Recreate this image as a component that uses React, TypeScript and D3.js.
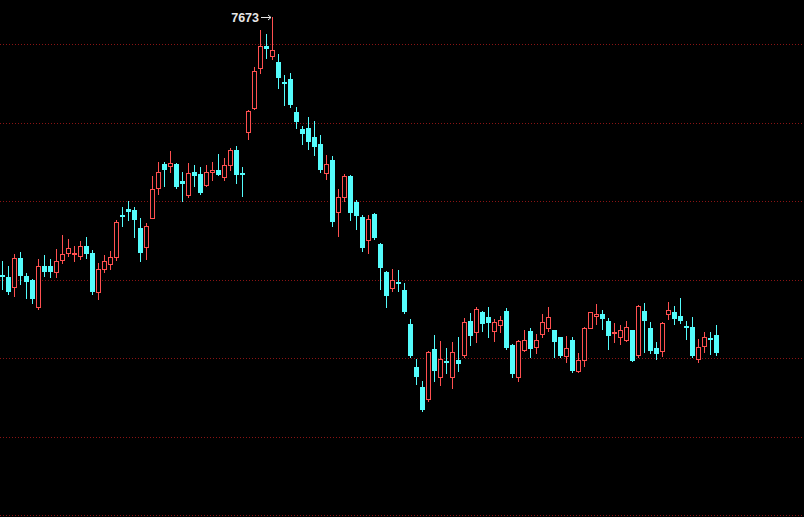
import React, { useEffect, useRef } from "react";
import * as d3 from "d3";

const opens = [6032,6015,5955,6141,6026,6000,5828,6090,6090,6047,6128,6172,6162,6149,6213,6172,5924,6070,6102,6142,
6415,6451,6445,6332,6206,6396,6587,6734,6723,6734,6628,6541,6685,6675,6605,6685,6696,6653,6732,6824,
6679,6940,7094,7351,7487,7426,7387,7260,7281,7068,6962,6966,6908,6866,6679,6760,6430,6525,6658,6498,
6402,6254,6420,6228,6051,5946,5987,5934,5717,5445,5317,5239,5558,5379,5479,5377,5490,5520,5738,5664,
5796,5760,5670,5711,5802,5585,5377,5551,5675,5572,5653,5689,5679,5632,5515,5617,5417,5488,5692,5766,
5781,5734,5659,5632,5615,5679,5520,5802,5692,5564,5547,5781,5796,5770,5707,5700,5494,5579,5625,5647];
const highs = [6121,6090,6166,6179,6040,6006,6134,6160,6134,6198,6287,6262,6217,6249,6275,6192,6109,6160,6185,6383,
6462,6504,6462,6396,6358,6658,6749,6749,6817,6741,6685,6742,6728,6717,6732,6749,6802,6777,6841,6849,
6717,7083,7355,7590,7568,7673,7436,7307,7320,7100,6977,7036,7009,6919,6792,6785,6579,6675,6664,6509,
6415,6409,6423,6232,6058,6070,6064,5979,5749,5493,5356,5547,5649,5609,5564,5600,5636,5756,5785,5823,
5802,5823,5749,5770,5819,5590,5617,5679,5692,5653,5781,5823,5681,5634,5643,5632,5534,5696,5796,5845,
5809,5753,5726,5711,5738,5681,5839,5851,5728,5600,5728,5860,5834,5881,5738,5760,5622,5664,5664,5711];
const lows = [5943,5911,5898,5975,5885,5853,5815,6026,6019,6019,6109,6153,6121,6134,6136,5911,5879,6051,6070,6128,
6345,6377,6270,6117,6134,6390,6549,6600,6685,6581,6504,6525,6600,6543,6600,6632,6664,6638,6696,6615,
6536,6898,7090,7317,7415,7409,7221,7111,7100,6968,6866,6834,6792,6685,6643,6345,6281,6500,6377,6324,
6181,6168,6260,5941,5823,5926,5930,5788,5504,5338,5160,5228,5351,5330,5402,5309,5415,5504,5585,5600,
5675,5636,5606,5664,5558,5381,5351,5547,5504,5530,5632,5675,5504,5504,5472,5413,5413,5451,5689,5717,
5686,5558,5600,5590,5611,5479,5504,5536,5532,5494,5515,5749,5717,5724,5622,5504,5472,5541,5526,5519];
const closes = [6019,5919,6136,6021,5983,5879,6085,6047,6051,6121,6166,6204,6171,6213,6162,5924,6070,6121,6142,6370,
6398,6434,6383,6168,6345,6579,6685,6702,6745,6589,6607,6681,6659,6553,6689,6696,6670,6732,6828,6664,
6668,7072,7328,7487,7468,7466,7285,7245,7111,7004,6926,6877,6845,6696,6734,6366,6525,6658,6423,6404,
6200,6388,6266,6072,5894,5999,5977,5791,5511,5377,5168,5541,5419,5494,5466,5539,5461,5730,5640,5813,
5715,5721,5730,5743,5563,5400,5611,5616,5558,5617,5728,5760,5600,5515,5564,5416,5490,5692,5791,5781,
5749,5643,5668,5679,5696,5483,5834,5738,5547,5526,5724,5809,5749,5738,5696,5511,5572,5636,5617,5532];

const gridLevels = [7500, 7000, 6500, 6000, 5500, 5000, 4500];
const peakLabel = "7673";

const W = 804;
const H = 517;
const UP = "#ff5050";
const DOWN = "#54fcfc";

export default function App() {
  const ref = useRef<SVGSVGElement>(null);

  useEffect(() => {
    document.body.style.margin = "0";
    document.body.style.background = "#000";
    const svg = d3.select(ref.current);
    svg.selectAll("*").remove();

    const n = opens.length;
    const x = d3.scaleLinear().domain([0, n - 1]).range([2, 716]);
    const y = d3.scaleLinear().domain([4500, 7500]).range([515, 44.3]);
    const px = (v: number) => Math.round(x(v));
    const py = (v: number) => Math.round(y(v));

    svg.append("rect").attr("width", W).attr("height", H).attr("fill", "#000");

    svg.selectAll("line.grid")
      .data(gridLevels)
      .enter()
      .append("line")
      .attr("class", "grid")
      .attr("x1", 0)
      .attr("x2", W)
      .attr("y1", d => py(d) + 0.5)
      .attr("y2", d => py(d) + 0.5)
      .attr("stroke", "#8a1414")
      .attr("stroke-width", 1)
      .attr("shape-rendering", "crispEdges")
      .attr("stroke-dasharray", "1,2");

    const data = opens.map((o, i) => ({ i, o, h: highs[i], l: lows[i], c: closes[i] }));
    const g = svg.append("g");
    data.forEach(d => {
      const cx = px(d.i);
      const up = d.c >= d.o;
      const col = up ? UP : DOWN;
      const top = py(Math.max(d.o, d.c));
      const bot = py(Math.min(d.o, d.c));
      g.append("line")
        .attr("x1", cx + 0.5).attr("x2", cx + 0.5)
        .attr("y1", py(d.h)).attr("y2", py(d.l) + 1)
        .attr("stroke", col).attr("stroke-width", 1);
      if (up) {
        g.append("rect")
          .attr("x", cx - 2 + 0.5)
          .attr("y", top + 0.5)
          .attr("width", 4)
          .attr("height", Math.max(bot - top, 1))
          .attr("fill", "#000")
          .attr("stroke", col)
          .attr("stroke-width", 1);
      } else {
        g.append("rect")
          .attr("x", cx - 2)
          .attr("y", top)
          .attr("width", 5)
          .attr("height", Math.max(bot - top, 2))
          .attr("fill", col);
      }
    });

    const maxH = d3.max(highs) as number;
    const peakIdx = highs.indexOf(maxH);
    const ax = px(peakIdx);
    const ay = py(maxH) + 0.5;
    svg.append("text")
      .attr("x", ax - 13)
      .attr("y", ay + 4.5)
      .attr("text-anchor", "end")
      .attr("fill", "#e6e6e6")
      .attr("font-family", "Liberation Sans, Arial, sans-serif")
      .attr("font-weight", "bold")
      .attr("font-size", 12.5)
      .text(peakLabel);
    svg.append("line")
      .attr("x1", ax - 11).attr("x2", ax - 1)
      .attr("y1", ay).attr("y2", ay)
      .attr("stroke", "#e6e6e6").attr("stroke-width", 1);
    svg.append("path")
      .attr("d", `M${ax - 4},${ay - 2.5} L${ax - 1},${ay} L${ax - 4},${ay + 2.5}`)
      .attr("fill", "none")
      .attr("stroke", "#e6e6e6").attr("stroke-width", 1);
  }, []);

  return (
    <svg
      ref={ref}
      width={W}
      height={H}
      style={{ position: "fixed", left: 0, top: 0, display: "block", background: "#000" }}
    />
  );
}
